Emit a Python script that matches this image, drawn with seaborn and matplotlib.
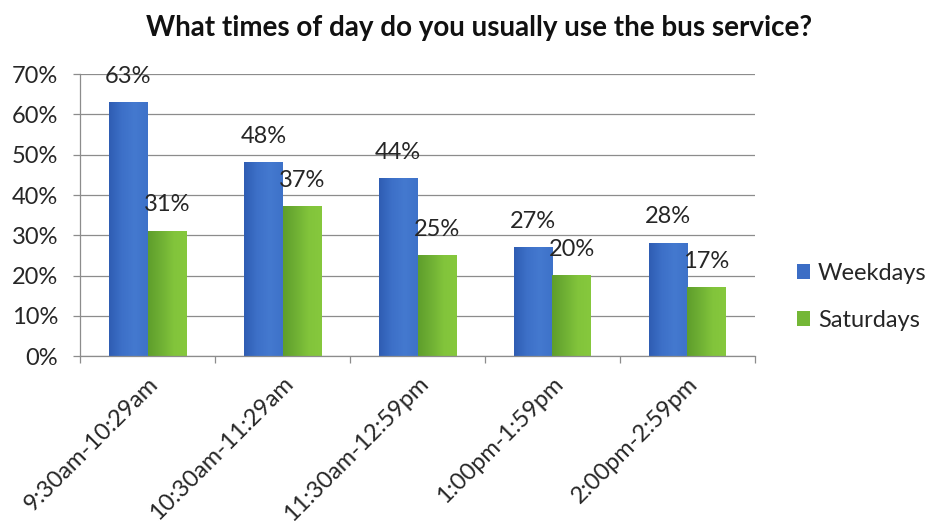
import matplotlib
matplotlib.use("Agg")
import matplotlib.pyplot as plt
import matplotlib.ticker as mticker
from matplotlib.colors import LinearSegmentedColormap
import numpy as np
import seaborn as sns
import pandas as pd

# Survey responses: share of riders using the bus in each time slot
time_slots = ["9:30am-10:29am", "10:30am-11:29am", "11:30am-12:59pm",
              "1:00pm-1:59pm", "2:00pm-2:59pm"]
weekdays = [0.63, 0.48, 0.44, 0.27, 0.28]
saturdays = [0.31, 0.37, 0.25, 0.20, 0.17]
series_names = ["Weekdays", "Saturdays"]
y_ticks = [0.0, 0.1, 0.2, 0.3, 0.4, 0.5, 0.6, 0.7]

df = pd.DataFrame({
    "slot": time_slots * 2,
    "share": weekdays + saturdays,
    "day": [series_names[0]] * len(time_slots) + [series_names[1]] * len(time_slots),
})

sns.set_theme(style="white")
plt.rcParams["font.family"] = ["Lato", "DejaVu Sans"]

FS = 17
TXT = "#262626"
AXC = "#8c8c8c"

fig = plt.figure(figsize=(9.33, 5.30), dpi=100)
ax = fig.add_axes([0.086, 0.328, 0.723, 0.532])

palette = {"Weekdays": "#3b6dc5", "Saturdays": "#74b736"}
sns.barplot(data=df, x="slot", y="share", hue="day", order=time_slots,
            hue_order=series_names, palette=palette, width=0.57,
            saturation=1, linewidth=0, ax=ax, legend=True)

# soft left-to-right shading on each bar
shades = {
    "Weekdays": LinearSegmentedColormap.from_list(
        "wk", ["#2f5db3", "#3d70c8", "#4479cf", "#3e72c9"]),
    "Saturdays": LinearSegmentedColormap.from_list(
        "sa", ["#5f9e2c", "#6fb034", "#82c43b", "#86c83d"]),
}
ramp = np.linspace(0, 1, 64).reshape(1, -1)
for name, container in zip(series_names, ax.containers):
    for bar in container:
        x0, w, h = bar.get_x(), bar.get_width(), bar.get_height()
        ax.imshow(ramp, extent=[x0, x0 + w, 0, h], aspect="auto",
                  cmap=shades[name], interpolation="bicubic",
                  zorder=bar.get_zorder() + 0.1)

# value labels above each bar
for container in ax.containers:
    for bar in container:
        h = bar.get_height()
        ax.annotate(f"{round(h * 100):.0f}%",
                    (bar.get_x() + bar.get_width() / 2, h),
                    xytext=(0, 19), textcoords="offset points",
                    ha="center", va="center", fontsize=FS, color=TXT)

ax.set_ylim(0, 0.7)
ax.set_xlim(-0.5, len(time_slots) - 0.5)
ax.set_yticks(y_ticks)
ax.yaxis.set_major_formatter(mticker.PercentFormatter(1.0, decimals=0))
ax.yaxis.grid(True, color=AXC, linewidth=0.9)
ax.set_axisbelow(True)

ax.set_xticks(range(len(time_slots)))
ax.set_xticklabels(time_slots, rotation=45, ha="right", rotation_mode="anchor",
                   fontsize=FS, color=TXT)
ax.set_xticks([i - 0.5 for i in range(len(time_slots) + 1)], minor=True)
ax.tick_params(axis="x", which="major", length=0, pad=12)
ax.tick_params(axis="x", which="minor", length=5, width=0.9, color=AXC,
               direction="out", bottom=True)
ax.tick_params(axis="y", length=5, width=0.9, color=AXC, direction="out",
               left=True, labelsize=FS, labelcolor=TXT, pad=11)

ax.set_xlabel("")
ax.set_ylabel("")
for side in ("top", "right"):
    ax.spines[side].set_visible(False)
for side in ("left", "bottom"):
    ax.spines[side].set_color(AXC)
    ax.spines[side].set_linewidth(0.9)

leg = ax.legend(loc="center left", bbox_to_anchor=(1.062, 0.21), frameon=False,
                fontsize=FS, handlelength=0.55, handleheight=0.55,
                handletextpad=0.35, labelspacing=1.1, borderpad=0,
                borderaxespad=0)
for t in leg.get_texts():
    t.set_color(TXT)

fig.suptitle("What times of day do you usually use the bus service?",
             x=0.514, y=0.947, va="center", fontsize=20, fontweight="bold",
             color="#111111")

fig.savefig("out.png", dpi=100, facecolor="white")
